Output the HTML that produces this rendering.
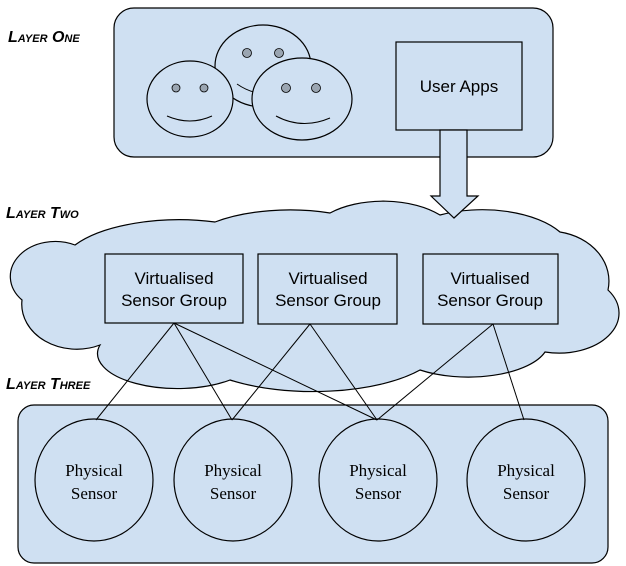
<!DOCTYPE html>
<html><head><meta charset="utf-8"><style>
html,body{margin:0;padding:0;background:#fff;}
svg{display:block;}
.lbl{font-family:"Liberation Sans",sans-serif;font-weight:bold;font-style:italic;font-size:16px;font-variant:small-caps;fill:#000;}
.t{font-family:"Liberation Sans",sans-serif;font-size:17px;fill:#000;}
.s{font-family:"Liberation Serif",serif;font-size:17px;fill:#000;}
</style></head><body>
<svg width="626" height="566" viewBox="0 0 626 566" xmlns="http://www.w3.org/2000/svg">
<text class="lbl" x="8" y="42">Layer One</text>
<text class="lbl" x="6" y="218">Layer Two</text>
<text class="lbl" x="6" y="389">Layer Three</text>

<rect x="114" y="8" width="439" height="149" rx="20" fill="#cfe0f2" stroke="#000" stroke-width="1.2"/>
<ellipse cx="263" cy="66" rx="48" ry="41" fill="#cfe0f2" stroke="#000" stroke-width="1.2"/>
<circle cx="247" cy="53" r="4.5" fill="#9aa5b1" stroke="#000" stroke-width="0.8"/>
<circle cx="279" cy="53" r="4.5" fill="#9aa5b1" stroke="#000" stroke-width="0.8"/>
<path d="M237 84 Q260 100 287 90" fill="none" stroke="#000"/>
<ellipse cx="190" cy="99" rx="43" ry="38" fill="#cfe0f2" stroke="#000" stroke-width="1.2"/>
<circle cx="176" cy="88" r="4" fill="#9aa5b1" stroke="#000" stroke-width="0.8"/>
<circle cx="204" cy="88" r="4" fill="#9aa5b1" stroke="#000" stroke-width="0.8"/>
<path d="M167 116 Q190 126 212 116" fill="none" stroke="#000"/>
<ellipse cx="302" cy="99" rx="50" ry="41" fill="#cfe0f2" stroke="#000" stroke-width="1.2"/>
<circle cx="286" cy="88" r="4.5" fill="#9aa5b1" stroke="#000" stroke-width="0.8"/>
<circle cx="316" cy="88" r="4.5" fill="#9aa5b1" stroke="#000" stroke-width="0.8"/>
<path d="M276 116 Q302 130 330 118" fill="none" stroke="#000"/>
<rect x="396" y="42" width="126" height="88" fill="#cfe0f2" stroke="#000" stroke-width="1.2"/>
<text class="t" x="459" y="92" text-anchor="middle">User Apps</text>

<path d="M75 245 A120 50 0 0 1 215 222 A110 45 0 0 1 330 213 A75 40 0 0 1 440 215 A90 45 0 0 1 560 232 A60 50 0 0 1 608 290 A60 40 0 0 1 545 352 A80 35 0 0 1 420 370 A130 50 0 0 1 230 380 A80 35 0 0 1 100 345 A55 45 0 0 1 22 300 A45 35 0 0 1 75 245 Z" fill="#cfe0f2" stroke="#000" stroke-width="1.2"/>

<path d="M440 130 H467 V196 H478 L454 218 L431 196 H440 Z" fill="#cfe0f2" stroke="#000" stroke-width="1.2"/>

<rect x="105" y="254" width="138" height="69" fill="#cfe0f2" stroke="#000" stroke-width="1.2"/>
<text class="t" x="174" y="284" text-anchor="middle">Virtualised</text>
<text class="t" x="174" y="306" text-anchor="middle">Sensor Group</text>
<rect x="258" y="254" width="139" height="70" fill="#cfe0f2" stroke="#000" stroke-width="1.2"/>
<text class="t" x="328" y="284" text-anchor="middle">Virtualised</text>
<text class="t" x="328" y="306" text-anchor="middle">Sensor Group</text>
<rect x="423" y="254" width="135" height="70" fill="#cfe0f2" stroke="#000" stroke-width="1.2"/>
<text class="t" x="490" y="284" text-anchor="middle">Virtualised</text>
<text class="t" x="490" y="306" text-anchor="middle">Sensor Group</text>

<rect x="18" y="405" width="590" height="158" rx="16" fill="#cfe0f2" stroke="#000" stroke-width="1.2"/>
<g fill="#cfe0f2" stroke="#000" stroke-width="1.2">
<ellipse cx="94" cy="480" rx="59" ry="61"/>
<ellipse cx="233" cy="480" rx="59" ry="61"/>
<ellipse cx="378" cy="480" rx="59" ry="61"/>
<ellipse cx="526" cy="480" rx="59" ry="61"/>
</g>
<g class="s" text-anchor="middle">
<text x="94" y="476">Physical</text><text x="94" y="499">Sensor</text>
<text x="233" y="476">Physical</text><text x="233" y="499">Sensor</text>
<text x="378" y="476">Physical</text><text x="378" y="499">Sensor</text>
<text x="526" y="476">Physical</text><text x="526" y="499">Sensor</text>
</g>

<g stroke="#000" stroke-width="1" fill="none">
<line x1="174" y1="323" x2="96" y2="420"/>
<line x1="174" y1="323" x2="232" y2="420"/>
<line x1="174" y1="323" x2="377" y2="420"/>
<line x1="310" y1="324" x2="232" y2="420"/>
<line x1="310" y1="324" x2="377" y2="420"/>
<line x1="493" y1="324" x2="377" y2="420"/>
<line x1="493" y1="324" x2="524" y2="420"/>
</g>
</svg>
</body></html>
